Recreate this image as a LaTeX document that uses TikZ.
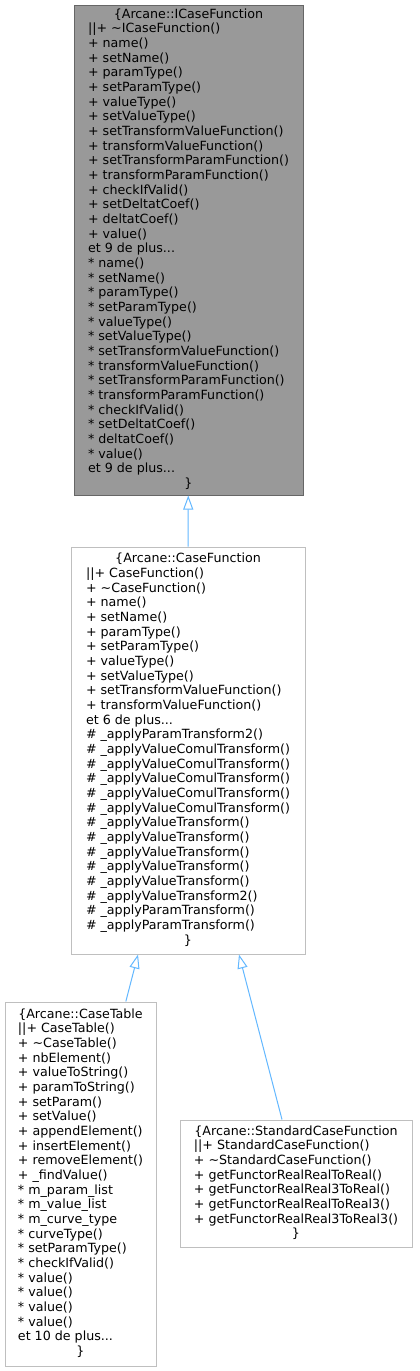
\documentclass[tikz,border=0pt]{standalone}
\usepackage{fontspec}
\setmainfont{DejaVu Sans}
\usepackage{tikz}
\usetikzlibrary{arrows.meta}
\definecolor{boxgray}{HTML}{999999}
\definecolor{darkedge}{HTML}{666666}
\definecolor{lightedge}{HTML}{BFBFBF}
\definecolor{inhblue}{HTML}{63B8FF}
\newcommand{\hd}[1]{\multicolumn{1}{@{}c@{}}{#1}}
\newcommand{\st}{{*}}

\begin{document}
\begin{tikzpicture}[x=0.75pt,y=-0.75pt,
  cls/.style={draw=lightedge,fill=white,line width=0.75pt,inner sep=0pt,
    font=\fontsize{9.5}{11}\selectfont},
  base/.style={cls,draw=darkedge,fill=boxgray},
  inh/.style={inhblue,line width=0.75pt,-{Triangle[open,length=10.5pt,width=7.5pt]}}]
\useasboundingbox[fill=white] (0,0) rectangle (419,1371);

\node[base,minimum width=171.75pt,minimum height=367.5pt] (icf) at (188.5,250) {%
\begin{tabular}{@{}l@{}}
\hd{\{Arcane::ICaseFunction}\\
||+ \textasciitilde ICaseFunction()\\
+ name()\\ + setName()\\ + paramType()\\ + setParamType()\\
+ valueType()\\ + setValueType()\\ + setTransformValueFunction()\\
+ transformValueFunction()\\ + setTransformParamFunction()\\
+ transformParamFunction()\\ + checkIfValid()\\ + setDeltatCoef()\\
+ deltatCoef()\\ + value()\\ et 9 de plus...\\
\st{} name()\\ \st{} setName()\\ \st{} paramType()\\ \st{} setParamType()\\
\st{} valueType()\\ \st{} setValueType()\\ \st{} setTransformValueFunction()\\
\st{} transformValueFunction()\\ \st{} setTransformParamFunction()\\
\st{} transformParamFunction()\\ \st{} checkIfValid()\\ \st{} setDeltatCoef()\\
\st{} deltatCoef()\\ \st{} value()\\ et 9 de plus...\\
\hd{\}}
\end{tabular}};

\node[cls,minimum width=175.5pt,minimum height=305.25pt] (cf) at (188,750.5) {%
\begin{tabular}{@{}l@{}}
\hd{\{Arcane::CaseFunction}\\
||+ CaseFunction()\\ + \textasciitilde CaseFunction()\\
+ name()\\ + setName()\\ + paramType()\\ + setParamType()\\
+ valueType()\\ + setValueType()\\ + setTransformValueFunction()\\
+ transformValueFunction()\\ et 6 de plus...\\
\# \_applyParamTransform2()\\
\# \_applyValueComulTransform()\\ \# \_applyValueComulTransform()\\
\# \_applyValueComulTransform()\\ \# \_applyValueComulTransform()\\
\# \_applyValueComulTransform()\\
\# \_applyValueTransform()\\ \# \_applyValueTransform()\\
\# \_applyValueTransform()\\ \# \_applyValueTransform()\\
\# \_applyValueTransform()\\ \# \_applyValueTransform2()\\
\# \_applyParamTransform()\\ \# \_applyParamTransform()\\
\hd{\}}
\end{tabular}};

\node[cls,minimum width=113.25pt,minimum height=273pt] (ct) at (80.5,1184) {%
\begin{tabular}{@{}l@{}}
\hd{\{Arcane::CaseTable}\\
||+ CaseTable()\\ + \textasciitilde CaseTable()\\ + nbElement()\\
+ valueToString()\\ + paramToString()\\ + setParam()\\ + setValue()\\
+ appendElement()\\ + insertElement()\\ + removeElement()\\
+ \_findValue()\\
\st{} m\_param\_list\\ \st{} m\_value\_list\\ \st{} m\_curve\_type\\
\st{} curveType()\\ \st{} setParamType()\\ \st{} checkIfValid()\\
\st{} value()\\ \st{} value()\\ \st{} value()\\ \st{} value()\\
et 10 de plus...\\
\hd{\}}
\end{tabular}};

\node[cls,minimum width=174pt,minimum height=95.25pt] (scf) at (296,1183.5) {%
\begin{tabular}{@{}l@{}}
\hd{\{Arcane::StandardCaseFunction}\\
||+ StandardCaseFunction()\\ + \textasciitilde StandardCaseFunction()\\
+ getFunctorRealRealToReal()\\ + getFunctorRealReal3ToReal()\\
+ getFunctorRealRealToReal3()\\ + getFunctorRealReal3ToReal3()\\
\hd{\}}
\end{tabular}};

% inheritance
\draw[inh] (cf) -- (icf);
\draw[inh] ([xshift=34pt]ct.north) -- ([xshift=-37.5pt]cf.south);
\draw[inh] ([xshift=-10.5pt]scf.north) -- ([xshift=38.25pt]cf.south);
\end{tikzpicture}
\end{document}
